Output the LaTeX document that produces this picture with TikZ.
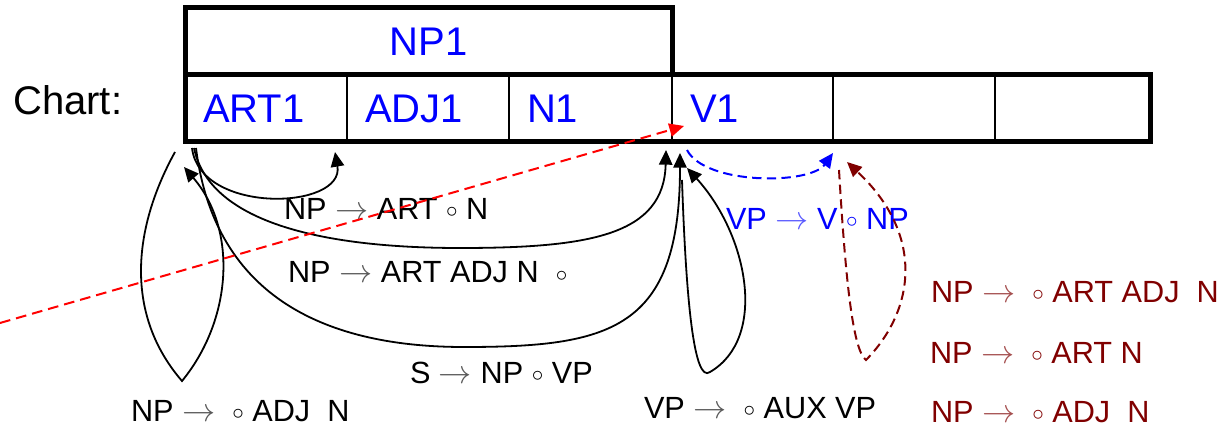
\documentclass[tikz,border=0pt]{standalone}
\usepackage{fontspec}
\setmainfont{Liberation Sans}
\usetikzlibrary{arrows.meta}
\definecolor{darkred}{RGB}{128,0,0}
\definecolor{arrgray}{RGB}{90,90,90}
\definecolor{arrblue}{RGB}{90,90,255}
\definecolor{arrred}{RGB}{165,80,80}
\newcommand{\myarr}[1]{\textcolor{#1}{$\rightarrow$}}
\newcommand{\mycirc}{\raisebox{1.5pt}{$\scriptstyle\circ$}}
\begin{document}
\begin{tikzpicture}[x=0.75pt,y=-0.75pt,
  big/.style={font=\fontsize{30}{36}\selectfont},
  small/.style={font=\fontsize{23}{27}\selectfont, inner sep=0pt, outer sep=0pt, anchor=base west},
  cell/.style={draw, line width=1.1pt, minimum height=50.25pt, inner xsep=13.5pt, inner ysep=0pt,
    outer sep=0pt, align=left, anchor=west, text=blue, font=\fontsize{30}{36}\selectfont},
  thickbox/.style={line width=3.75pt},
  edge/.style={line width=1.35pt, -{Triangle[length=11pt,width=10pt]}},
  reddash/.style={red, line width=1.5pt, dash pattern=on 8pt off 4.5pt, -{Triangle[length=11pt,width=10pt]}},
  bluedash/.style={blue, line width=1.5pt, dash pattern=on 7pt off 4pt, -{Triangle[length=11pt,width=10pt]}},
  maroondash/.style={darkred, line width=1.5pt, dash pattern=on 7pt off 4pt, -{Triangle[length=11pt,width=10pt]}}
]
\useasboundingbox (0,0) rectangle (1219,427);

% chart cells
\node[cell, minimum width=121.5pt, text width=94.5pt] (c1) at (185,108.5) {ART1};
\node[cell, minimum width=121.5pt, text width=94.5pt] (c2) at (347,108.5) {ADJ1};
\node[cell, minimum width=122.25pt, text width=95.25pt] (c3) at (509,108.5) {N1};
\node[cell, minimum width=120.75pt, text width=93.75pt] (c4) at (672,108.5) {V1};
\node[cell, minimum width=121.5pt, text width=94.5pt] (c5) at (833,108.5) {};
\node[cell, minimum width=116.25pt, text width=89.25pt] (c6) at (995,108.5) {};
\draw[thickbox] (c1.south west) rectangle (c6.north east);
\node[draw, thickbox, minimum width=365.25pt, minimum height=50.25pt, anchor=south west,
  outer sep=0pt, inner sep=0pt, text=blue, big] (np1) at (c1.north west) {NP1};

\node[big, anchor=base west, inner sep=0pt] (chart) at (13,115) {Chart:};

% labels
\node[small] (l1) at (284,220) {NP \myarr{arrgray} ART \mycirc{} N};
\node[small] (l2) at (288,283) {NP \myarr{arrgray} ART ADJ N ~\mycirc};
\node[small] (l3) at (410,383) {S \myarr{arrgray} NP \mycirc{} VP};
\node[small] (l4) at (131,421) {NP \myarr{arrgray} ~\mycirc{} ADJ ~N};
\node[small] (l5) at (644,418) {VP \myarr{arrgray} ~\mycirc{} AUX VP};
\node[small, text=blue] (l6) at (726,230) {VP \myarr{arrblue} V \mycirc{} NP};
\node[small, text=darkred] (r1) at (931,302) {NP \myarr{arrred} ~\mycirc{} ART ADJ ~N};
\node[small, text=darkred] (r2) at (930,363) {NP \myarr{arrred} ~\mycirc{} ART N};
\node[small, text=darkred] (r3) at (931,422) {NP \myarr{arrred} ~\mycirc{} ADJ ~N};

% connector end points
\coordinate (a1s) at (192,148);
\coordinate (a1e) at (335,152);
\coordinate (a2s) at (194,148);
\coordinate (a2e) at (666,150);
\coordinate (a3s) at (196,148);
\coordinate (a3e) at (680,153);
\coordinate (lps) at (175,152);
\coordinate (lpe) at (184,167);
\coordinate (vps) at (682,180);
\coordinate (vpe) at (687,168);
\coordinate (bls) at (687,150);
\coordinate (ble) at (833,153);
\coordinate (mrs) at (839,170);
\coordinate (mre) at (847,162);
\coordinate (rds) at (0,323);
\coordinate (rde) at (684,126);

% black arcs
\draw[edge] (a1s) .. controls (200,215) and (345,210) .. (a1e);
\draw[edge] (a2s) .. controls (210,225) and (330,248) .. (460,248)
                  .. controls (590,248) and (664,235) .. (a2e);
\draw[edge] (a3s) .. controls (215,300) and (330,347) .. (464,347)
                  .. controls (610,347) and (680,330) .. (a3e);
\draw[edge] (lps) .. controls (132,230) and (125,315) .. (182,381)
                  .. controls (232,320) and (238,230) .. (lpe);
\draw[edge] (vps) .. controls (686,300) and (694,384) .. (710,372)
                  .. controls (768,338) and (748,235) .. (vpe);

% dashed arcs
\draw[bluedash] (bls) .. controls (705,185) and (810,185) .. (ble);
\draw[maroondash] (mrs) .. controls (845,270) and (852,350) .. (866,360)
                  .. controls (915,310) and (925,235) .. (mre);
\draw[reddash] (rds) -- (rde);
\end{tikzpicture}
\end{document}
